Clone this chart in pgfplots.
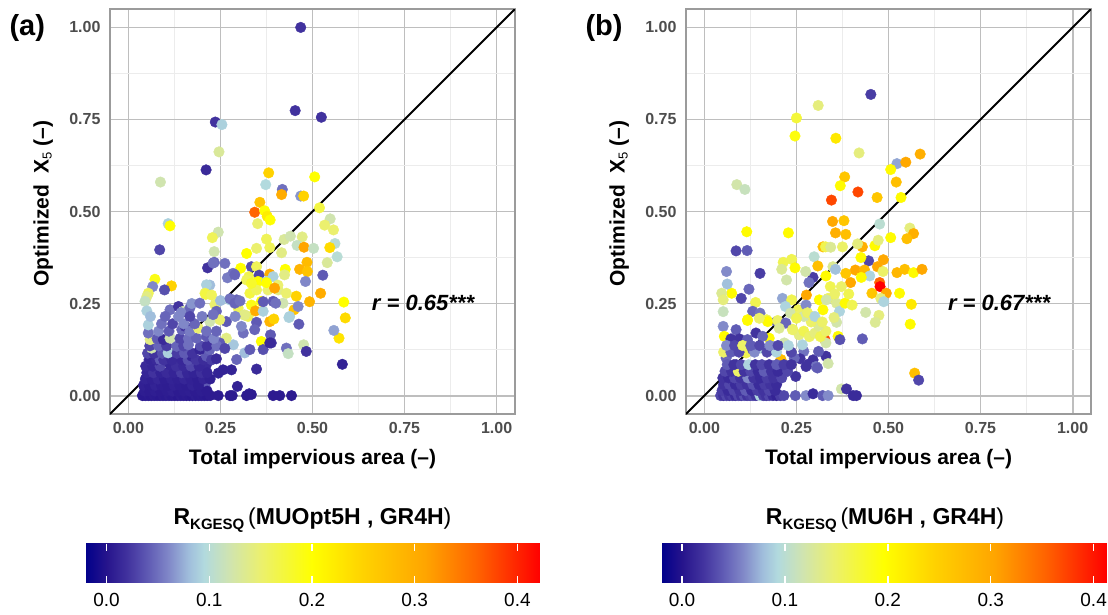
\documentclass[border=0pt]{standalone}
\usepackage{pgfplots}
\pgfplotsset{compat=1.18}
\usepackage{pgfplotstable}
\usepackage{fontspec}
\setmainfont{Liberation Sans}
\usetikzlibrary{calc}

\definecolor{tickgray}{RGB}{77,77,77}
\definecolor{bordergray}{RGB}{155,155,155}
\definecolor{majgray}{RGB}{190,190,190}
\definecolor{mingray}{RGB}{236,236,236}

\pgfplotsset{
  colormap={kge}{
    rgb255(0cm)=(0,0,139);
    rgb255(2.1cm)=(38,20,140);
    rgb255(4.1cm)=(65,50,158);
    rgb255(6.1cm)=(95,90,180);
    rgb255(8.1cm)=(128,135,200);
    rgb255(10.1cm)=(160,190,220);
    rgb255(11.6cm)=(178,218,222);
    rgb255(14.1cm)=(208,228,175);
    rgb255(17.1cm)=(235,240,110);
    rgb255(22.1cm)=(255,255,0);
    rgb255(27.1cm)=(255,210,0);
    rgb255(33.1cm)=(255,165,0);
    rgb255(38.1cm)=(255,100,0);
    rgb255(44.3cm)=(255,0,0)
  },
  panel/.style={
    scale only axis, width=405pt, height=405pt,
    xmin=-0.05, xmax=1.05, ymin=-0.05, ymax=1.05,
    xtick={0,0.25,0.5,0.75,1}, ytick={0,0.25,0.5,0.75,1},
    xticklabels={0.00,0.25,0.50,0.75,1.00},
    yticklabels={0.00,0.25,0.50,0.75,1.00},
    minor xtick={0.125,0.375,0.625,0.875},
    minor ytick={0.125,0.375,0.625,0.875},
    grid=both,
    major grid style={draw=majgray, line width=1.8pt},
    minor grid style={draw=mingray, line width=0.9pt},
    axis line style={draw=bordergray, line width=1.4pt},
    major tick length=0pt, minor tick length=0pt,
    ticklabel style={font=\fontsize{16}{16}\selectfont\bfseries, text=tickgray},
    xticklabel style={yshift=-5pt},
    yticklabel style={xshift=-6pt},
    colormap name=kge,
    clip=true,
    xlabel={Total impervious area (–)},
    ylabel={Optimized~~X\raisebox{-3pt}{\fontsize{13}{13}\selectfont\mdseries 5} (–)},
    every axis x label/.style={at={(axis description cs:0.5,-0.112)}, anchor=center,
      font=\fontsize{21}{21}\selectfont\bfseries},
    every axis y label/.style={at={(axis description cs:-0.165,0.52)}, anchor=center, rotate=90,
      font=\fontsize{21}{21}\selectfont\bfseries},
    colorbar horizontal,
    colorbar/width=39pt,
  },
  cbar/.style={
    colorbar style={
      at={($(parent axis.south west)+(-25pt,-121pt)$)}, anchor=north west,
      scale only axis, width=#1, height=39pt,
      xtick={0,0.1,0.2,0.3,0.4},
      xticklabels={0.0,0.1,0.2,0.3,0.4},
      xticklabel style={font=\fontsize{19}{19}\selectfont, text=black, yshift=-7pt},
      major tick length=7pt,
      tick align=inside,
      tick pos=both,
      xticklabel pos=lower,
      every tick/.style={draw=white, line width=1.4pt},
      axis line style={draw=none},
      ytick=\empty,
      grid=none,
    }
  },
  pts/.style={scatter, only marks, mark=*, mark size=5.3pt, scatter src=explicit,
    scatter/use mapped color={draw=mapped color, fill=mapped color}},
}

\pgfplotstableread{
x y c
0.468 1.000 0.020
0.453 0.774 0.020
0.524 0.756 0.020
0.236 0.743 0.020
0.254 0.736 0.090
0.246 0.662 0.130
0.211 0.613 0.015
0.087 0.580 0.120
0.381 0.605 0.250
0.506 0.594 0.200
0.373 0.573 0.095
0.418 0.560 0.050
0.416 0.546 0.300
0.468 0.542 0.065
0.476 0.542 0.250
0.357 0.525 0.270
0.343 0.498 0.360
0.370 0.502 0.200
0.377 0.487 0.220
0.385 0.477 0.200
0.519 0.510 0.170
0.108 0.467 0.090
0.113 0.461 0.200
0.351 0.467 0.150
0.548 0.480 0.120
0.533 0.463 0.150
0.557 0.450 0.150
0.244 0.444 0.120
0.228 0.429 0.160
0.375 0.425 0.160
0.423 0.424 0.130
0.440 0.433 0.120
0.472 0.431 0.140
0.458 0.408 0.110
0.477 0.403 0.310
0.503 0.400 0.110
0.561 0.413 0.100
0.547 0.402 0.240
0.567 0.377 0.100
0.085 0.396 0.030
0.233 0.391 0.120
0.348 0.400 0.150
0.321 0.386 0.200
0.384 0.402 0.160
0.416 0.388 0.140
0.485 0.362 0.280
0.540 0.361 0.130
0.465 0.343 0.290
0.486 0.337 0.270
0.426 0.343 0.200
0.528 0.327 0.040
0.233 0.362 0.045
0.215 0.347 0.020
0.230 0.360 0.050
0.262 0.359 0.050
0.305 0.346 0.200
0.334 0.350 0.035
0.348 0.350 0.160
0.284 0.332 0.050
0.269 0.320 0.055
0.289 0.328 0.045
0.327 0.323 0.165
0.355 0.327 0.030
0.384 0.330 0.300
0.393 0.323 0.090
0.424 0.328 0.140
0.481 0.310 0.060
0.072 0.316 0.190
0.117 0.298 0.250
0.066 0.296 0.060
0.098 0.287 0.035
0.054 0.278 0.160
0.050 0.269 0.140
0.221 0.300 0.080
0.212 0.301 0.090
0.208 0.278 0.160
0.210 0.275 0.170
0.226 0.273 0.160
0.321 0.314 0.160
0.352 0.310 0.200
0.375 0.310 0.090
0.330 0.278 0.170
0.348 0.287 0.160
0.379 0.287 0.150
0.407 0.287 0.140
0.334 0.305 0.180
0.375 0.307 0.200
0.406 0.300 0.150
0.397 0.292 0.310
0.429 0.278 0.150
0.456 0.270 0.250
0.522 0.278 0.300
0.492 0.255 0.290
0.585 0.254 0.200
0.589 0.211 0.240
0.572 0.156 0.230
0.558 0.177 0.070
0.581 0.085 0.010
0.450 0.233 0.270
0.436 0.212 0.090
0.384 0.201 0.290
0.395 0.208 0.250
0.463 0.194 0.040
0.361 0.147 0.200
0.386 0.165 0.040
0.388 0.143 0.020
0.429 0.129 0.050
0.434 0.114 0.110
0.476 0.138 0.120
0.483 0.120 0.020
0.348 0.072 0.015
0.296 0.025 0.010
0.328 0.005 0.010
0.244 0.000 0.005
0.276 0.000 0.005
0.282 0.000 0.005
0.321 0.000 0.005
0.334 0.003 0.005
0.393 0.000 0.005
0.411 0.000 0.005
0.443 0.000 0.005
0.257 0.070 0.010
0.280 0.070 0.010
0.045 0.256 0.110
0.050 0.230 0.090
0.113 0.233 0.050
0.136 0.242 0.020
0.149 0.229 0.120
0.167 0.238 0.045
0.172 0.250 0.065
0.143 0.225 0.060
0.194 0.251 0.050
0.235 0.247 0.150
0.239 0.229 0.045
0.250 0.258 0.080
0.275 0.260 0.090
0.294 0.260 0.045
0.298 0.238 0.160
0.276 0.263 0.050
0.289 0.251 0.045
0.303 0.257 0.050
0.314 0.219 0.130
0.325 0.215 0.160
0.316 0.219 0.140
0.334 0.246 0.190
0.361 0.256 0.200
0.345 0.230 0.300
0.366 0.229 0.090
0.393 0.256 0.040
0.420 0.251 0.120
0.438 0.215 0.090
0.366 0.255 0.040
0.400 0.251 0.050
0.461 0.242 0.060
0.348 0.199 0.040
0.343 0.179 0.045
0.312 0.170 0.050
0.307 0.188 0.060
0.266 0.201 0.040
0.248 0.206 0.150
0.221 0.201 0.120
0.285 0.138 0.085
0.266 0.156 0.140
0.316 0.116 0.080
0.294 0.098 0.045
0.330 0.125 0.040
0.366 0.125 0.035
0.384 0.143 0.015
0.208 0.025 0.040
0.212 0.084 0.015
0.244 0.061 0.010
0.038 0.000 0.004
0.046 0.000 0.003
0.054 0.000 0.004
0.062 0.000 0.003
0.070 0.000 0.005
0.078 0.000 0.004
0.086 0.000 0.003
0.094 0.000 0.005
0.102 0.000 0.004
0.110 0.000 0.006
0.118 0.000 0.004
0.126 0.000 0.005
0.134 0.000 0.003
0.142 0.000 0.006
0.150 0.000 0.004
0.158 0.000 0.005
0.166 0.000 0.004
0.174 0.000 0.003
0.182 0.000 0.006
0.190 0.000 0.004
0.198 0.000 0.005
0.206 0.000 0.004
0.214 0.000 0.003
0.222 0.000 0.005
0.044 0.012 0.006
0.058 0.012 0.005
0.072 0.012 0.007
0.088 0.012 0.005
0.104 0.012 0.006
0.120 0.012 0.008
0.136 0.012 0.005
0.150 0.012 0.006
0.166 0.012 0.007
0.182 0.012 0.005
0.198 0.012 0.006
0.214 0.012 0.005
0.041 0.028 0.008
0.057 0.028 0.006
0.073 0.028 0.010
0.090 0.028 0.007
0.108 0.028 0.006
0.124 0.028 0.009
0.140 0.028 0.007
0.158 0.028 0.006
0.174 0.028 0.010
0.190 0.028 0.007
0.046 0.045 0.010
0.064 0.045 0.008
0.080 0.045 0.012
0.098 0.045 0.007
0.117 0.045 0.010
0.134 0.045 0.008
0.152 0.045 0.012
0.170 0.045 0.009
0.188 0.045 0.007
0.204 0.045 0.011
0.222 0.045 0.008
0.050 0.062 0.012
0.068 0.062 0.020
0.088 0.062 0.010
0.104 0.062 0.015
0.124 0.062 0.011
0.144 0.062 0.025
0.160 0.062 0.012
0.178 0.062 0.010
0.198 0.062 0.018
0.214 0.062 0.011
0.047 0.080 0.015
0.066 0.080 0.012
0.086 0.080 0.030
0.113 0.084 0.012
0.130 0.080 0.018
0.150 0.080 0.014
0.170 0.080 0.030
0.192 0.080 0.013
0.056 0.097 0.018
0.059 0.098 0.012
0.076 0.097 0.015
0.086 0.098 0.040
0.096 0.097 0.020
0.118 0.097 0.014
0.145 0.098 0.013
0.162 0.097 0.035
0.172 0.107 0.012
0.184 0.097 0.022
0.204 0.097 0.016
0.212 0.107 0.040
0.226 0.097 0.025
0.239 0.100 0.015
0.052 0.115 0.030
0.070 0.115 0.020
0.092 0.115 0.035
0.108 0.116 0.090
0.132 0.115 0.025
0.152 0.115 0.040
0.174 0.115 0.020
0.194 0.125 0.012
0.221 0.125 0.045
0.248 0.143 0.040
0.063 0.129 0.120
0.058 0.135 0.030
0.082 0.135 0.045
0.104 0.135 0.025
0.131 0.134 0.045
0.150 0.135 0.030
0.163 0.138 0.050
0.196 0.135 0.035
0.214 0.135 0.020
0.240 0.135 0.050
0.262 0.128 0.030
0.059 0.152 0.140
0.078 0.155 0.040
0.095 0.152 0.015
0.113 0.156 0.120
0.140 0.155 0.030
0.163 0.155 0.050
0.185 0.156 0.045
0.212 0.161 0.040
0.232 0.155 0.060
0.054 0.170 0.050
0.082 0.175 0.060
0.110 0.175 0.040
0.145 0.179 0.045
0.154 0.188 0.020
0.167 0.175 0.055
0.190 0.183 0.150
0.212 0.175 0.050
0.239 0.175 0.045
0.054 0.192 0.090
0.090 0.195 0.050
0.120 0.195 0.030
0.150 0.195 0.060
0.180 0.195 0.045
0.060 0.215 0.080
0.100 0.215 0.045
0.136 0.215 0.060
0.167 0.215 0.030
0.200 0.215 0.055
0.230 0.220 0.050
0.290 0.215 0.060
}\dataA

\pgfplotstableread{
x y c
0.452 0.818 0.025
0.309 0.788 0.140
0.250 0.754 0.170
0.246 0.705 0.190
0.357 0.699 0.220
0.420 0.659 0.140
0.523 0.630 0.070
0.547 0.634 0.300
0.586 0.656 0.290
0.506 0.614 0.200
0.521 0.580 0.270
0.381 0.594 0.260
0.369 0.570 0.200
0.417 0.553 0.370
0.345 0.531 0.370
0.469 0.538 0.260
0.534 0.538 0.200
0.088 0.573 0.120
0.110 0.560 0.110
0.476 0.466 0.100
0.558 0.455 0.140
0.568 0.440 0.290
0.550 0.426 0.270
0.506 0.429 0.200
0.348 0.473 0.300
0.379 0.475 0.260
0.356 0.442 0.290
0.384 0.438 0.270
0.115 0.445 0.200
0.228 0.442 0.200
0.086 0.393 0.030
0.116 0.394 0.040
0.322 0.404 0.270
0.329 0.404 0.160
0.343 0.403 0.130
0.375 0.404 0.150
0.429 0.404 0.290
0.416 0.412 0.140
0.463 0.407 0.200
0.472 0.422 0.140
0.446 0.366 0.030
0.425 0.375 0.200
0.486 0.369 0.300
0.298 0.377 0.100
0.237 0.370 0.160
0.214 0.362 0.160
0.246 0.347 0.200
0.210 0.343 0.130
0.308 0.352 0.270
0.349 0.350 0.130
0.295 0.321 0.025
0.284 0.307 0.050
0.275 0.337 0.120
0.330 0.325 0.200
0.356 0.343 0.080
0.384 0.332 0.260
0.410 0.341 0.300
0.435 0.341 0.280
0.470 0.350 0.300
0.449 0.325 0.090
0.485 0.337 0.150
0.523 0.334 0.280
0.544 0.343 0.270
0.568 0.334 0.200
0.591 0.343 0.300
0.397 0.307 0.300
0.426 0.321 0.200
0.476 0.307 0.350
0.477 0.296 0.420
0.455 0.278 0.260
0.494 0.278 0.300
0.530 0.278 0.200
0.479 0.264 0.140
0.487 0.255 0.090
0.562 0.248 0.220
0.559 0.194 0.200
0.474 0.218 0.140
0.464 0.199 0.130
0.438 0.226 0.120
0.429 0.154 0.040
0.571 0.061 0.270
0.582 0.042 0.030
0.277 0.273 0.300
0.312 0.260 0.200
0.322 0.233 0.200
0.336 0.264 0.160
0.359 0.251 0.130
0.367 0.229 0.090
0.382 0.251 0.200
0.401 0.246 0.160
0.392 0.276 0.160
0.372 0.296 0.150
0.342 0.296 0.160
0.354 0.276 0.150
0.331 0.260 0.120
0.359 0.199 0.120
0.352 0.212 0.140
0.363 0.161 0.200
0.368 0.152 0.035
0.327 0.153 0.370
0.330 0.143 0.120
0.330 0.107 0.020
0.336 0.087 0.120
0.295 0.097 0.020
0.284 0.086 0.020
0.303 0.079 0.050
0.310 0.120 0.040
0.270 0.120 0.050
0.260 0.100 0.020
0.207 0.096 0.270
0.372 0.018 0.120
0.386 0.018 0.020
0.404 0.000 0.015
0.413 0.000 0.015
0.247 0.000 0.040
0.276 0.000 0.060
0.295 0.005 0.015
0.321 0.000 0.040
0.336 0.000 0.060
0.223 0.314 0.120
0.212 0.264 0.070
0.237 0.260 0.160
0.255 0.233 0.160
0.220 0.242 0.090
0.234 0.224 0.120
0.259 0.219 0.150
0.276 0.246 0.060
0.291 0.215 0.120
0.139 0.253 0.160
0.121 0.289 0.045
0.100 0.264 0.030
0.074 0.278 0.200
0.062 0.303 0.080
0.060 0.337 0.060
0.151 0.332 0.025
0.047 0.278 0.130
0.051 0.228 0.110
0.051 0.260 0.140
0.131 0.229 0.045
0.151 0.224 0.050
0.169 0.206 0.160
0.117 0.206 0.200
0.196 0.201 0.045
0.214 0.197 0.020
0.240 0.180 0.150
0.257 0.165 0.140
0.270 0.175 0.160
0.285 0.160 0.150
0.300 0.170 0.140
0.315 0.160 0.160
0.330 0.175 0.150
0.310 0.190 0.130
0.290 0.200 0.150
0.270 0.215 0.120
0.250 0.210 0.160
0.280 0.225 0.150
0.300 0.215 0.090
0.320 0.200 0.150
0.117 0.204 0.200
0.172 0.201 0.200
0.149 0.210 0.150
0.199 0.204 0.150
0.221 0.197 0.045
0.051 0.188 0.060
0.054 0.161 0.200
0.086 0.179 0.040
0.072 0.154 0.020
0.095 0.154 0.020
0.117 0.152 0.040
0.140 0.170 0.020
0.176 0.156 0.200
0.158 0.161 0.045
0.203 0.183 0.130
0.239 0.179 0.150
0.266 0.138 0.090
0.217 0.143 0.120
0.154 0.129 0.090
0.113 0.116 0.160
0.131 0.125 0.040
0.181 0.125 0.045
0.208 0.098 0.270
0.059 0.102 0.045
0.086 0.084 0.020
0.244 0.102 0.045
0.276 0.079 0.020
0.307 0.075 0.040
0.248 0.052 0.020
0.044 0.000 0.030
0.052 0.000 0.020
0.060 0.000 0.030
0.068 0.000 0.020
0.076 0.000 0.025
0.084 0.000 0.015
0.092 0.000 0.030
0.100 0.000 0.020
0.108 0.000 0.035
0.116 0.000 0.020
0.124 0.000 0.025
0.132 0.000 0.030
0.140 0.000 0.020
0.151 0.000 0.090
0.160 0.000 0.025
0.168 0.000 0.020
0.176 0.000 0.030
0.186 0.000 0.015
0.196 0.000 0.010
0.206 0.000 0.025
0.216 0.000 0.030
0.048 0.014 0.025
0.064 0.014 0.015
0.080 0.014 0.030
0.096 0.014 0.020
0.112 0.014 0.040
0.128 0.014 0.015
0.144 0.014 0.025
0.160 0.014 0.020
0.176 0.014 0.030
0.192 0.014 0.015
0.052 0.030 0.020
0.068 0.030 0.030
0.084 0.030 0.015
0.100 0.030 0.025
0.116 0.030 0.020
0.132 0.030 0.035
0.148 0.030 0.015
0.164 0.030 0.025
0.180 0.030 0.020
0.196 0.030 0.015
0.050 0.048 0.020
0.066 0.048 0.015
0.082 0.048 0.030
0.098 0.048 0.020
0.118 0.048 0.060
0.134 0.048 0.020
0.152 0.048 0.015
0.170 0.048 0.025
0.188 0.048 0.020
0.210 0.048 0.030
0.056 0.066 0.030
0.074 0.066 0.020
0.092 0.066 0.150
0.108 0.066 0.020
0.126 0.066 0.030
0.146 0.066 0.015
0.162 0.066 0.040
0.182 0.066 0.020
0.200 0.066 0.015
0.226 0.066 0.030
0.062 0.084 0.040
0.080 0.084 0.020
0.100 0.084 0.030
0.120 0.084 0.090
0.138 0.084 0.020
0.156 0.084 0.030
0.176 0.084 0.020
0.196 0.084 0.040
0.216 0.084 0.025
0.236 0.084 0.020
0.052 0.118 0.150
0.072 0.118 0.040
0.094 0.118 0.030
0.136 0.118 0.060
0.170 0.118 0.030
0.196 0.118 0.090
0.236 0.118 0.030
0.060 0.136 0.060
0.082 0.136 0.030
0.104 0.136 0.150
0.126 0.136 0.040
0.150 0.136 0.030
0.178 0.136 0.060
0.200 0.136 0.030
0.228 0.136 0.090
}\dataB

\begin{document}
\begin{tikzpicture}
\useasboundingbox (0,0) rectangle (1108pt,-614pt);

\begin{axis}[panel, at={(110pt,-414pt)}, anchor=south west,
  point meta min=-0.021, point meta max=0.422, cbar=455pt]
\addplot[pts] table[x=x, y=y, meta=c] {\dataA};
\addplot[black, line width=1.8pt, no marks] coordinates {(-0.05,-0.05) (1.05,1.05)};
\node[anchor=west, font=\fontsize{22}{22}\selectfont\bfseries\itshape] at (axis cs:0.652,0.252) {r = 0.65***};
\end{axis}

\begin{axis}[panel, at={(686pt,-414pt)}, anchor=south west,
  point meta min=-0.0204, point meta max=0.413, cbar=446pt]
\addplot[pts] table[x=x, y=y, meta=c] {\dataB};
\addplot[black, line width=1.8pt, no marks] coordinates {(-0.05,-0.05) (1.05,1.05)};
\node[anchor=west, font=\fontsize{22}{22}\selectfont\bfseries\itshape] at (axis cs:0.652,0.252) {r = 0.67***};
\end{axis}

\node[anchor=west, font=\fontsize{29}{29}\selectfont\bfseries] at (6pt,-28pt) {(a)};
\node[anchor=west, font=\fontsize{29}{29}\selectfont\bfseries] at (582pt,-28pt) {(b)};

\node[font=\fontsize{23}{23}\selectfont\bfseries] at (312.5pt,-520pt)
  {R\raisebox{-5pt}{\fontsize{15}{15}\selectfont KGESQ}\,{\mdseries(}MUOpt5H , GR4H{\mdseries)}};
\node[font=\fontsize{23}{23}\selectfont\bfseries] at (885pt,-520pt)
  {R\raisebox{-5pt}{\fontsize{15}{15}\selectfont KGESQ}\,{\mdseries(}MU6H , GR4H{\mdseries)}};
\end{tikzpicture}
\end{document}
